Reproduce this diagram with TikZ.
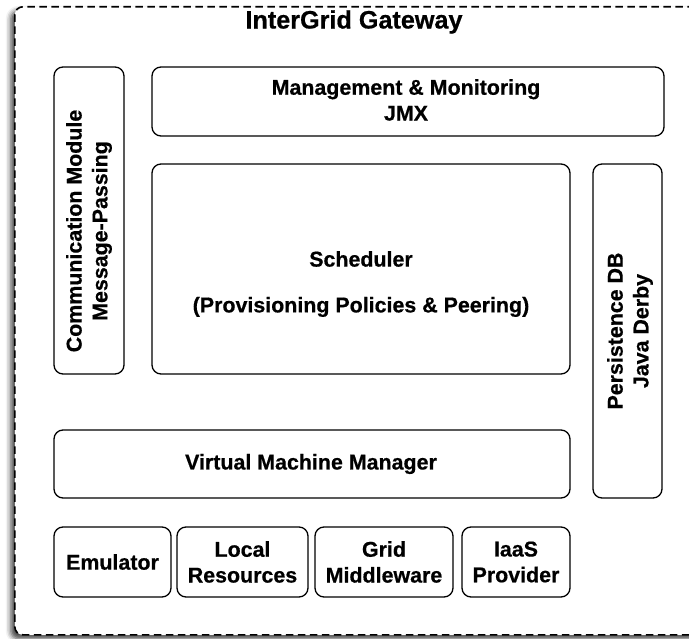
\documentclass[tikz,border=0pt]{standalone}
\usepackage{fontspec}
\setmainfont{Liberation Sans}[BoldFeatures={FakeBold=0.6}]
\usetikzlibrary{shadows.blur}

\tikzset{
  module/.style={draw=black, line width=1.3pt, rounded corners=9pt, fill=white,
                 inner sep=0pt, outer sep=0pt},
  boxtext/.style={align=center, inner sep=0pt,
                  font=\bfseries\fontsize{21.4}{25.8}\selectfont},
  titletext/.style={inner sep=0pt, font=\bfseries\fontsize{25.2}{30}\selectfont},
  gateway/.style={draw=black, line width=1.6pt, dash pattern=on 7.5pt off 4.5pt,
                  rounded corners=8pt, fill=white,
                  blur shadow={shadow xshift=-4pt, shadow yshift=-4pt,
                               shadow blur radius=5pt, shadow opacity=75}},
}

\begin{document}
\begin{tikzpicture}[x=1pt, y=-1pt]
\useasboundingbox (0,0) rectangle (689,639);

% outer gateway frame (runs past the right edge)
\node[gateway, minimum width=700pt, minimum height=628pt, anchor=north west]
  (gw) at (14,6) {};
\node[titletext] (title) at (354,22) {InterGrid Gateway};

% upper layer
\node[module, minimum width=70pt,  minimum height=307pt] (comm)  at (89,220.5) {};
\node[boxtext, rotate=90] (commtext) at (89,231)
  {Communication Module\\Message-Passing};

\node[module, minimum width=512pt, minimum height=69pt] (mgmt) at (408,101.5) {};
\node[boxtext] (mgmttext) at (406,100) {Management \& Monitoring\\JMX};

\node[module, minimum width=418pt, minimum height=210pt] (sched) at (361,269) {};
\node[boxtext] (schedtext) at (361,284)
  {Scheduler\\[20pt](Provisioning Policies \& Peering)};

\node[module, minimum width=69pt, minimum height=334pt] (persist) at (627.5,331) {};
\node[boxtext, rotate=90] (persisttext) at (630,331)
  {Persistence DB\\Java Derby};

% virtual machine layer
\node[module, minimum width=516pt, minimum height=68pt] (vmm) at (312,464) {};
\node[boxtext] (vmmtext) at (311,464) {Virtual Machine Manager};

% resource providers
\node[module, minimum width=117pt, minimum height=70pt] (emu)   at (112.5,562) {};
\node[module, minimum width=131pt, minimum height=70pt] (local) at (242.5,562) {};
\node[module, minimum width=138pt, minimum height=70pt] (grid)  at (384,562) {};
\node[module, minimum width=108pt, minimum height=70pt] (iaas)  at (516,562) {};

\node[boxtext] (emutext)   at (emu)   {Emulator};
\node[boxtext] (localtext) at (local) {Local\\Resources};
\node[boxtext] (gridtext)  at (grid)  {Grid\\Middleware};
\node[boxtext] (iaastext)  at (iaas)  {IaaS\\Provider};
\end{tikzpicture}
\end{document}
